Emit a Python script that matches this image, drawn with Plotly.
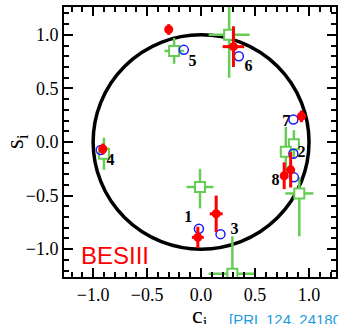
import plotly.graph_objects as go

bins = ["1", "2", "3", "4", "5", "6", "7", "8"]

# BESIII measurements (red)
bes_c = [-0.03, 0.83, 0.14, -0.91, -0.30, 0.30, 0.93, 0.77]
bes_s = [-0.89, -0.26, -0.67, -0.065, 1.05, 0.89, 0.24, -0.315]
bes_c_err = [0.055, 0.036, 0.06, 0.035, 0.03, 0.10, 0.035, 0.035]
bes_s_err = [0.10, 0.165, 0.17, 0.05, 0.05, 0.19, 0.055, 0.125]

# CLEO measurements (green open squares)
cleo_c = [-0.01, 0.86, 0.29, -0.90, -0.25, 0.26, 0.785, 0.91]
cleo_s = [-0.42, -0.02, -1.23, -0.11, 0.85, 1.00, -0.09, -0.48]
cleo_c_err = [0.125, 0.05, 0.22, 0.035, 0.09, 0.19, 0.055, 0.13]
cleo_s_err_up = [0.17, 0.13, 0.35, 0.15, 0.12, 0.40, 0.23, 0.15]
cleo_s_err_dn = [0.20, 0.13, 0.35, 0.15, 0.12, 0.40, 0.23, 0.40]

# model predictions (blue open circles)
pred_c = [-0.02, 0.855, 0.18, -0.93, -0.16, 0.35, 0.855, 0.86]
pred_s = [-0.81, -0.11, -0.86, -0.075, 0.86, 0.80, 0.21, -0.33]

# bin label positions
lab_c = [-0.12, 0.93, 0.31, -0.84, -0.08, 0.44, 0.79, 0.69]
lab_s = [-0.71, -0.10, -0.82, -0.18, 0.75, 0.70, 0.19, -0.36]

RED = "#ff0000"
GREEN = "#66cc55"
BLUE = "#1a1aff"
SERIF = "Liberation Serif, Times New Roman, serif"

fig = go.Figure()

fig.add_shape(type="circle", xref="x", yref="y", x0=-1, x1=1, y0=-1, y1=1,
              line=dict(color="black", width=3.5), layer="below")

fig.add_trace(go.Scatter(
    x=cleo_c, y=cleo_s, mode="markers",
    marker=dict(symbol="square", size=10, color="white",
                line=dict(color=GREEN, width=2)),
    error_x=dict(type="data", array=cleo_c_err, color=GREEN, thickness=2.5, width=0),
    error_y=dict(type="data", array=cleo_s_err_up, arrayminus=cleo_s_err_dn,
                 symmetric=False, color=GREEN, thickness=2.5, width=0),
    showlegend=False, cliponaxis=True))

fig.add_trace(go.Scatter(
    x=pred_c, y=pred_s, mode="markers",
    marker=dict(symbol="circle-open", size=9, color=BLUE, line=dict(width=1.5)),
    showlegend=False))

fig.add_trace(go.Scatter(
    x=bes_c, y=bes_s, mode="markers",
    marker=dict(symbol="circle", size=9, color=RED),
    error_x=dict(type="data", array=bes_c_err, color=RED, thickness=3, width=0),
    error_y=dict(type="data", array=bes_s_err, color=RED, thickness=3, width=0),
    showlegend=False))

fig.add_trace(go.Scatter(
    x=lab_c, y=lab_s, mode="text", text=bins,
    textfont=dict(family=SERIF, size=16, color="black", weight="bold"),
    showlegend=False))

axis_common = dict(
    showline=True, linecolor="black", linewidth=2, mirror="allticks",
    ticks="inside", ticklen=9, tickwidth=2, tickcolor="black",
    dtick=0.5, tick0=0, tickformat=".1f",
    minor=dict(ticks="inside", ticklen=5, tickwidth=2, tickcolor="black", dtick=0.1),
    showgrid=False, zeroline=False, automargin=False,
    tickfont=dict(family=SERIF, size=18, color="black"),
)

fig.update_xaxes(range=[-1.27, 1.25], **axis_common)
fig.update_yaxes(range=[-1.26, 1.26], **axis_common)

fig.add_annotation(x=-0.80, y=-1.06, xref="x", yref="y", text="BESIII",
                   showarrow=False,
                   font=dict(family="Liberation Sans, Arial, sans-serif", size=24, color=RED))
fig.add_annotation(x=0.5, y=0, xref="paper", yref="paper", text="c<sub>i</sub>",
                   showarrow=False, xanchor="center", yanchor="top", yshift=-23,
                   font=dict(family=SERIF, size=24, color="black"))
fig.add_annotation(x=0, y=0.5, xref="paper", yref="paper", text="s<sub>i</sub>",
                   showarrow=False, textangle=-90, xanchor="center", yanchor="middle",
                   xshift=-48,
                   font=dict(family=SERIF, size=25, color="black"))
fig.add_annotation(x=0.60, y=-0.159, xref="paper", yref="paper",
                   text="[PRL 124, 241802 (2020)]", showarrow=False,
                   xanchor="left", yanchor="middle",
                   font=dict(family="Liberation Sans, Arial, sans-serif", size=15, color="#1e9be0"))

fig.update_layout(
    width=338, height=324,
    margin=dict(l=64, r=2, t=7, b=47),
    paper_bgcolor="white", plot_bgcolor="white",
)

fig.write_html("out.html", config={"displayModeBar": False},
               post_script="document.body.style.margin='0';")
